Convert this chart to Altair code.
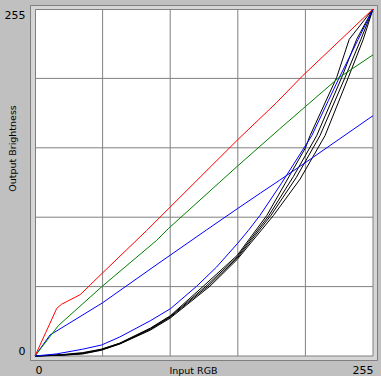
import altair as alt
import pandas as pd

# ---- data (0-255 input vs 0-255 output) ----
red_x = [0, 8, 16.4, 20, 34, 41.5, 44, 84, 153, 182, 202, 255]
red_y = [0, 17, 35, 38, 45, 52, 54.5, 92, 159, 186, 206, 255]

green_x = [0, 17.6, 50.8, 91.8, 100.6, 152.6, 184.6, 228.8, 255]
green_y = [0, 22.3, 51.3, 85, 93.6, 139.4, 166.9, 204.2, 221.3]

blue_x = [0, 11.3, 50.8, 92.9, 129.5, 152.6, 170, 184.3, 203.7, 255]
blue_y = [0, 15.4, 39, 67.9, 92.7, 108.2, 119.7, 129, 141.9, 176.6]

curve_blue_x = [0, 16, 36, 50.3, 64, 87, 102.4, 122, 137, 152.6, 161, 169.7, 186, 208.8, 221.3, 229.6, 243.9, 255]
curve_blue_y = [0, 1.5, 5, 8.1, 14, 25.9, 34.9, 51.3, 65.4, 82.5, 92.3, 103.3, 127, 161.9, 187.6, 204.7, 232.8, 255]

black1_x = [0, 20, 36, 50, 64, 87, 102, 127, 152.6, 174.9, 204, 207.5, 227.6, 237.1, 255]
black1_y = [0, 1, 2.5, 5, 9.5, 20.5, 29.5, 51.3, 74, 103.3, 152.9, 161.9, 204.7, 232.8, 255]
black2_x = [0, 20, 36, 50, 64, 87, 102, 129, 152.6, 176.5, 195, 212.5, 231.4, 242.7, 255]
black2_y = [0, 0.8, 2, 4.8, 9.3, 20, 29, 51.3, 73, 103.3, 132, 161.9, 204.7, 232.8, 255]
black3_x = [0, 20, 36, 50, 64, 87, 102, 130.5, 152.6, 178, 197, 215, 233.9, 245.9, 255]
black3_y = [0, 0.6, 1.8, 4.5, 9, 19.5, 28.5, 51.3, 72, 103.3, 131, 161.9, 204.7, 232.8, 255]
black4_x = [0, 20, 36, 50, 64, 87, 102, 132, 152.6, 179.9, 200, 218.8, 236.4, 247.7, 255]
black4_y = [0, 0.5, 1.5, 4.2, 8.8, 19, 27.8, 51.3, 71, 103.3, 130, 161.9, 204.7, 232.8, 255]

grid_values = [51, 102, 153, 204]
axis_values = [0, 255]

series = [
    ("black1", "black", black1_x, black1_y),
    ("black2", "black", black2_x, black2_y),
    ("black3", "black", black3_x, black3_y),
    ("black4", "black", black4_x, black4_y),
    ("curve_blue", "blue", curve_blue_x, curve_blue_y),
    ("blue", "blue", blue_x, blue_y),
    ("green", "green", green_x, green_y),
    ("red", "red", red_x, red_y),
]

rows = []
for name, col, xs, ys in series:
    for i, (a, b) in enumerate(zip(xs, ys)):
        rows.append({"series": name, "colour": col, "x": a, "y": b, "i": i})
df = pd.DataFrame(rows)

W, H = 338, 347
xscale = alt.Scale(domain=[0, 255], nice=False, zero=False)
yscale = alt.Scale(domain=[0, 255], nice=False, zero=False)

xaxis = alt.Axis(
    values=axis_values, title="Input RGB", grid=False, domain=False, ticks=False,
    tickSize=0, labelFlush=True, labelPadding=8, labelAngle=0,
    titleX=158, titleY=14, titleBaseline="middle", titleAlign="center",
)
yaxis = alt.Axis(
    values=axis_values, title="Output Brightness", grid=False, domain=False, ticks=False,
    tickSize=0, labelFlush=True, labelPadding=10,
    titleX=-22.5, titleY=139, titleAngle=-90, titleBaseline="middle", titleAlign="center",
)

one = pd.DataFrame({"k": [0]})

outer = alt.Chart(one).mark_rect(fill="#d6d6d6", stroke="#808080", strokeWidth=1).encode(
    x=alt.value(-4.5), x2=alt.value(W + 4.5), y=alt.value(-3.5), y2=alt.value(H + 4.5)
)
inner = alt.Chart(one).mark_rect(fill="white", stroke="#808080", strokeWidth=1).encode(
    x=alt.value(0.5), x2=alt.value(W), y=alt.value(0.5), y2=alt.value(H)
)

grid_df = pd.DataFrame({"g": grid_values})
vgrid = alt.Chart(grid_df).mark_rule(color="#808080", strokeWidth=1).encode(
    x=alt.X("g:Q", scale=xscale, axis=xaxis)
)
hgrid = alt.Chart(grid_df).mark_rule(color="#808080", strokeWidth=1).encode(
    y=alt.Y("g:Q", scale=yscale, axis=yaxis)
)

lines = alt.Chart(df).mark_line(strokeWidth=1, clip=False).encode(
    x=alt.X("x:Q", scale=xscale, axis=xaxis),
    y=alt.Y("y:Q", scale=yscale, axis=yaxis),
    color=alt.Color("colour:N", scale=alt.Scale(
        domain=["black", "blue", "green", "red"],
        range=["#000000", "#0000ff", "#008000", "#ff0000"]), legend=None),
    detail="series:N",
    order="i:Q",
)

chart = alt.layer(outer, inner, vgrid, hgrid, lines).properties(
    width=W, height=H,
    padding={"left": 35, "top": 9, "right": 8, "bottom": 20},
    autosize=alt.AutoSizeParams(type="none"),
    background="#c0c0c0",
).configure_view(stroke=None, fill=None).configure_axis(
    labelFont="DejaVu Sans", labelFontSize=11, labelColor="#000000",
    titleFont="DejaVu Sans", titleFontSize=9.5, titleFontWeight="normal", titleColor="#000000",
)

chart.save("out.html", embed_options={"renderer": "svg", "actions": False})
